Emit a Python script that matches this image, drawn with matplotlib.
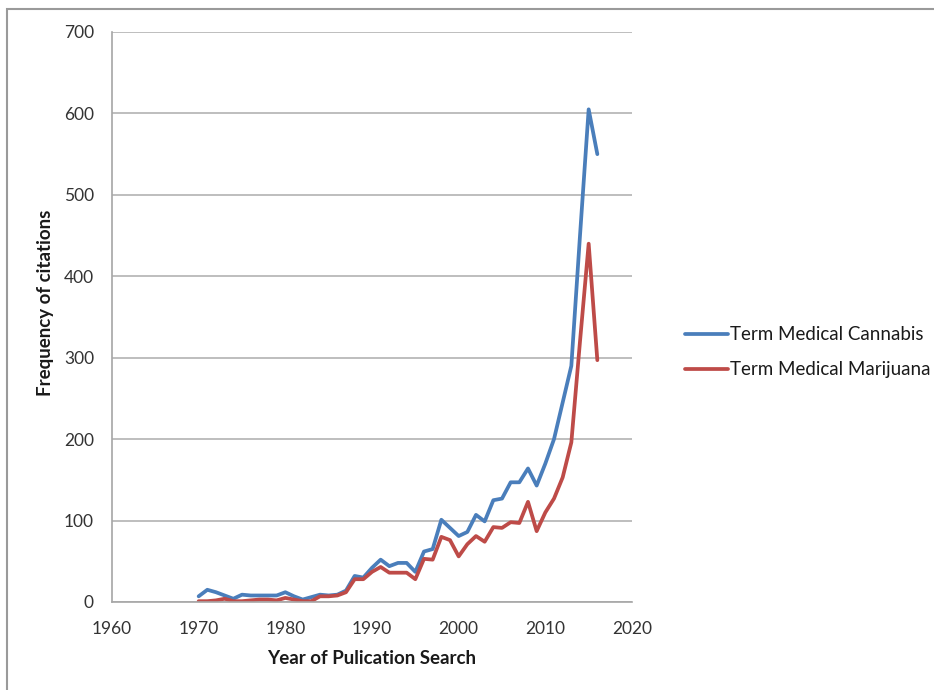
import matplotlib
matplotlib.use("Agg")
import matplotlib.pyplot as plt
from matplotlib.patches import Rectangle

plt.rcParams['font.family'] = ['Lato', 'DejaVu Sans']

# publication years searched
years = [1970, 1971, 1972, 1973, 1974, 1975, 1976, 1977, 1978, 1979,
         1980, 1981, 1982, 1983, 1984, 1985, 1986, 1987, 1988, 1989,
         1990, 1991, 1992, 1993, 1994, 1995, 1996, 1997, 1998, 1999,
         2000, 2001, 2002, 2003, 2004, 2005, 2006, 2007, 2008, 2009,
         2010, 2011, 2012, 2013, 2014, 2015, 2016]

cannabis = [7, 15, 12, 8, 4, 9, 8, 8, 8, 8,
            12, 7, 3, 6, 9, 8, 9, 14, 32, 30,
            42, 52, 44, 48, 48, 37, 62, 65, 101, 91,
            81, 86, 107, 99, 125, 127, 147, 147, 164, 143,
            170, 200, 245, 290, 450, 605, 550]

marijuana = [1, 1, 2, 4, 1, 1, 2, 3, 3, 2,
             5, 3, 1, 1, 7, 7, 8, 12, 28, 28,
             37, 43, 36, 36, 36, 28, 53, 52, 80, 76,
             56, 71, 81, 74, 92, 91, 98, 97, 123, 87,
             110, 127, 153, 196, 320, 440, 297]

series_names = ['Term Medical Cannabis', 'Term Medical Marijuana']
series_colors = ['#4A7EBB', '#BE4B48']

fig = plt.figure(figsize=(9.34, 6.9), dpi=100)
fig.patch.set_facecolor('white')

# outer frame of the chart area
fig.patches.append(Rectangle((7 / 934, -0.05), 1.2, 0.05 + 1 - 9 / 690,
                             transform=fig.transFigure, fill=False,
                             edgecolor='#9A9A9A', linewidth=1.5))

ax = fig.add_axes([112 / 934, 1 - 602 / 690, 520 / 934, (602 - 32) / 690])

ax.plot(years, cannabis, color=series_colors[0], lw=2.7, label=series_names[0],
        solid_joinstyle='round', solid_capstyle='round')
ax.plot(years, marijuana, color=series_colors[1], lw=2.7, label=series_names[1],
        solid_joinstyle='round', solid_capstyle='round')

ax.set_xlim(1960, 2020)
ax.set_ylim(0, 700)
ax.set_xticks([1960, 1970, 1980, 1990, 2000, 2010, 2020])
ax.set_yticks([0, 100, 200, 300, 400, 500, 600, 700])
ax.grid(axis='y', color='#B3B3B3', linewidth=1.2)
ax.set_axisbelow(True)

for s in ['top', 'right']:
    ax.spines[s].set_visible(False)
for s in ['left', 'bottom']:
    ax.spines[s].set_color('#A6A6A6')
    ax.spines[s].set_linewidth(1.2)

ax.tick_params(axis='both', length=0, labelsize=12.5, colors='#333333')
ax.tick_params(axis='y', pad=13)
ax.tick_params(axis='x', pad=14)

ax.set_xlabel('Year of Pulication Search', fontsize=13.5, fontweight='bold',
              color='#1a1a1a', labelpad=9)
ax.set_ylabel('Frequency of citations', fontsize=13.5, fontweight='bold',
              color='#1a1a1a')
ax.yaxis.set_label_coords(-0.112, 0.525)

leg = ax.legend(loc='center left', bbox_to_anchor=(1.07, 0.438), frameon=False,
                fontsize=13.5, handlelength=2.3, handletextpad=0.1,
                labelspacing=0.95)
for t in leg.get_texts():
    t.set_color('#1a1a1a')

fig.savefig('out.png', dpi=100, facecolor='white')
